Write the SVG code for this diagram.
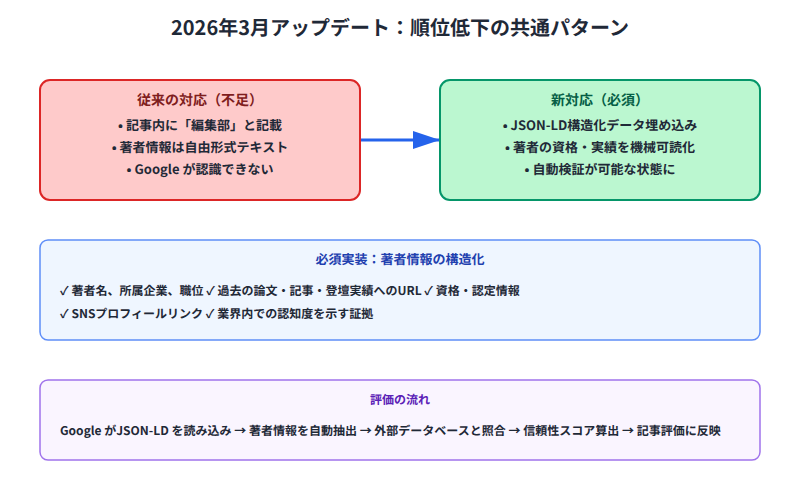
<svg xmlns="http://www.w3.org/2000/svg" width="800" height="500" viewBox="0 0 800 500">
<style>
text{font-family:"Noto Sans CJK JP","Noto Sans",sans-serif;fill:#1f2937;text-rendering:geometricPrecision;}
.t{font-size:20px;font-weight:700;text-anchor:middle;}
.h{font-size:14px;font-weight:700;text-anchor:middle;}
.s{font-size:13px;font-weight:700;text-anchor:middle;}
.m{font-size:13px;font-weight:600;text-anchor:middle;}
.b{font-size:12px;font-weight:600;}
</style>
<defs><marker id="arr" markerWidth="9" markerHeight="6" refX="9" refY="3" orient="auto" markerUnits="strokeWidth"><path d="M0 0L9 3L0 6Z" fill="#2563eb"/></marker></defs>
<rect width="800" height="500" fill="#fff"/>
<text class="t" x="400" y="35">2026年3月アップデート：順位低下の共通パターン</text>
<g id="connectors"><line x1="360" y1="140" x2="440" y2="140" stroke="#2563eb" stroke-width="3" marker-end="url(#arr)"/></g>
<g id="old"><rect x="40" y="80" width="320" height="120" rx="10" fill="#fecaca" stroke="#dc2626" stroke-width="2"/>
<text class="h" x="200" y="105" style="fill:#7f1d1d">従来の対応（不足）</text>
<text class="m" x="200" y="130">• 記事内に「編集部」と記載</text>
<text class="m" x="200" y="152">• 著者情報は自由形式テキスト</text>
<text class="m" x="200" y="174">• Google が認識できない</text></g>
<g id="new"><rect x="440" y="80" width="320" height="120" rx="10" fill="#bbf7d0" stroke="#059669" stroke-width="2"/>
<text class="h" x="600" y="105" style="fill:#065f46">新対応（必須）</text>
<text class="m" x="600" y="130">• JSON-LD構造化データ埋め込み</text>
<text class="m" x="600" y="152">• 著者の資格・実績を機械可読化</text>
<text class="m" x="600" y="174">• 自動検証が可能な状態に</text></g>
<g id="impl"><rect x="40" y="240" width="720" height="100" rx="8" fill="#eff6ff" stroke="#5f8ef8" stroke-width="1.5"/>
<text class="s" x="400" y="264" style="fill:#1e40af">必須実装：著者情報の構造化</text>
<text class="b" x="60" y="295">✓ 著者名、所属企業、職位 ✓ 過去の論文・記事・登壇実績へのURL ✓ 資格・認定情報</text>
<text class="b" x="60" y="318">✓ SNSプロフィールリンク ✓ 業界内での認知度を示す証拠</text></g>
<g id="flow"><rect x="40" y="380" width="720" height="80" rx="8" fill="#faf5ff" stroke="#a073eb" stroke-width="1.5"/>
<text class="s" x="400" y="404" style="fill:#5b21b6;font-size:12px">評価の流れ</text>
<text class="b" x="60" y="435">Google がJSON-LD を読み込み → 著者情報を自動抽出 → 外部データベースと照合 → 信頼性スコア算出 → 記事評価に反映</text></g>
</svg>
